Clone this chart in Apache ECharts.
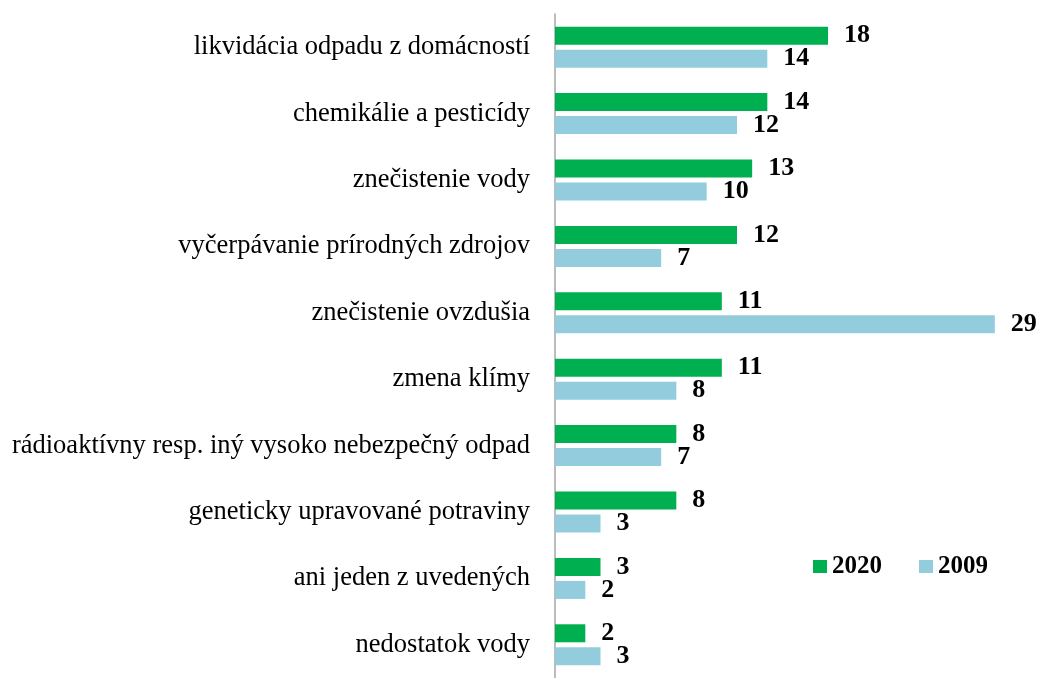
<!DOCTYPE html>
<html>
<head>
<meta charset="utf-8">
<script src="https://cdn.jsdelivr.net/npm/echarts@6/dist/echarts.min.js"></script>
<style>
html,body{margin:0;padding:0;background:#fff;}
#chart{width:1039px;height:678px;}
</style>
</head>
<body>
<div id="chart"></div>
<script>
const categories = [
  "likvidácia odpadu z domácností",
  "chemikálie a pesticídy",
  "znečistenie vody",
  "vyčerpávanie prírodných zdrojov",
  "znečistenie ovzdušia",
  "zmena klímy",
  "rádioaktívny resp. iný vysoko nebezpečný odpad",
  "geneticky upravované potraviny",
  "ani jeden z uvedených",
  "nedostatok vody"
];
const values2020 = [18, 14, 13, 12, 11, 11, 8, 8, 3, 2];
const values2009 = [14, 12, 10, 7, 29, 8, 7, 3, 2, 3];
const seriesNames = ["2020", "2009"];

const serif = "'Liberation Serif', 'Times New Roman', serif";
const chart = echarts.init(document.getElementById('chart'), null, {renderer: 'canvas'});
const labelStyle = {
  show: true,
  position: 'right',
  distance: 16,
  fontFamily: serif,
  fontWeight: 'bold',
  fontSize: 26,
  color: '#000'
};
chart.setOption({
  animation: false,
  backgroundColor: '#ffffff',
  grid: {left: 555, top: 14, height: 672, width: 455, containLabel: false},
  legend: {
    data: seriesNames,
    left: 813,
    top: 554,
    padding: 0,
    itemWidth: 14,
    itemHeight: 13,
    itemGap: 37,
    textStyle: {fontFamily: serif, fontWeight: 'bold', fontSize: 25, color: '#000'},
    icon: 'rect'
  },
  xAxis: {
    type: 'value', min: 0, max: 30, show: false
  },
  yAxis: {
    type: 'category',
    data: categories,
    inverse: true,
    axisLine: {show: true, lineStyle: {color: '#a6a6a6', width: 1.5}},
    axisTick: {show: false},
    axisLabel: {fontFamily: serif, fontSize: 26.5, color: '#000', margin: 25}
  },
  series: [
    {name: seriesNames[0], type: 'bar', data: values2020, barWidth: 18, barGap: '28%',
     itemStyle: {color: '#00b050'}, label: labelStyle},
    {name: seriesNames[1], type: 'bar', data: values2009, barWidth: 18, barGap: '28%',
     itemStyle: {color: '#93cddd'}, label: labelStyle}
  ]
});
</script>
</body>
</html>
